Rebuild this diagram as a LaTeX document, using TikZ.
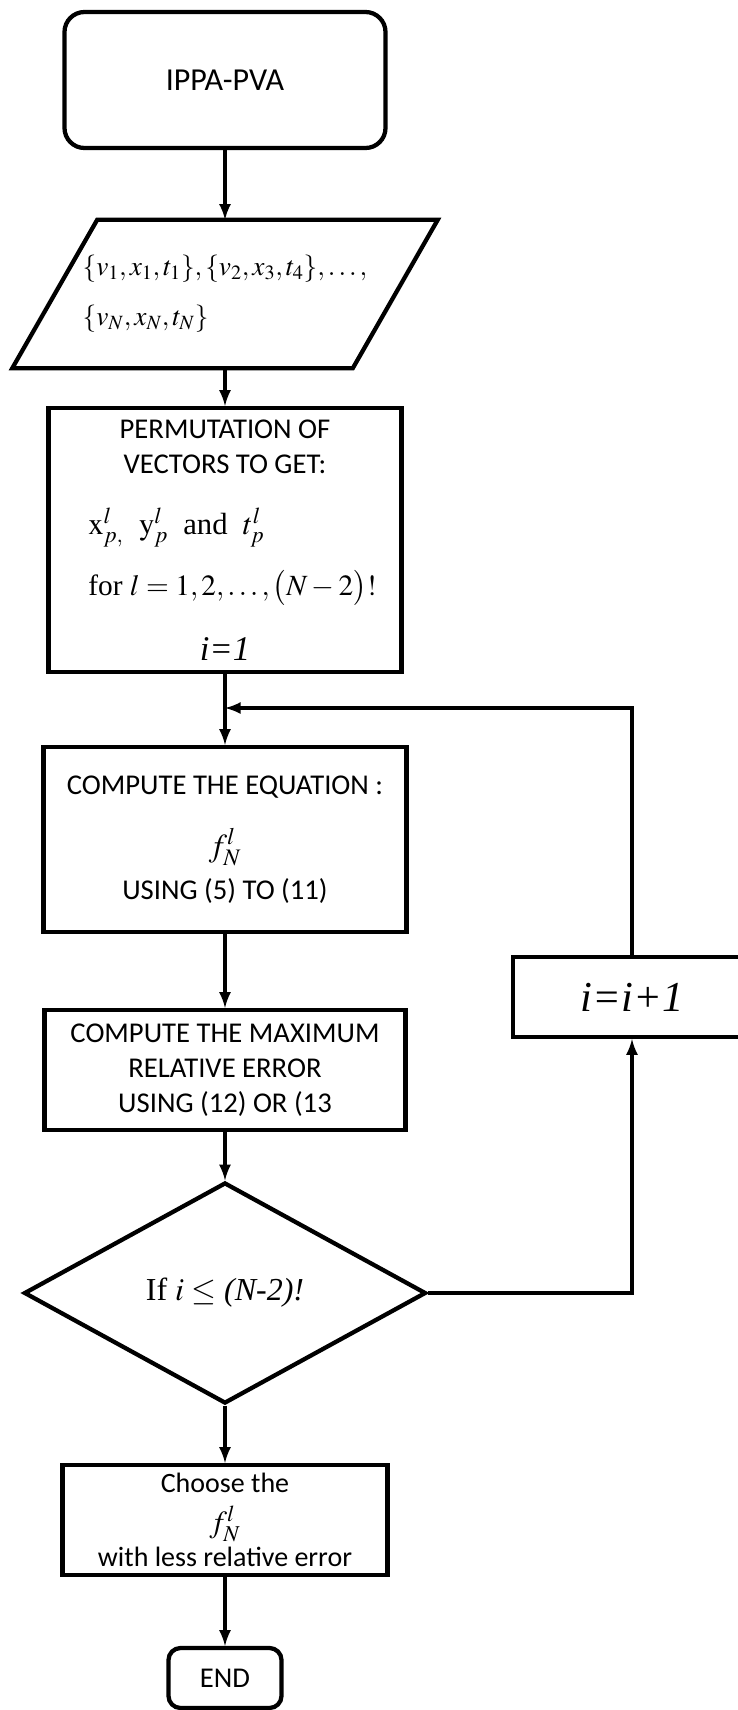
\documentclass[tikz,border=0pt]{standalone}
\usepackage{mathptmx}
\usepackage[no-math]{fontspec}
\setmainfont{Liberation Serif}
\setsansfont{Carlito}
\usetikzlibrary{shapes.geometric}
\begin{document}
\begin{tikzpicture}[x=0.75pt,y=-0.75pt,
  box/.style={draw,line width=3.2pt,inner sep=0pt,align=center,font=\sffamily\fontsize{21.5}{26.25}\selectfont},
  flow/.style={-latex,line width=3pt}]
\pgfmathsetmacro{\cx}{225}
\useasboundingbox (0,0) rectangle (738,1710);
\node[box,rounded corners=15pt,minimum width=240.75pt,minimum height=102pt,font=\sffamily\fontsize{24}{28}\selectfont] (start) at (\cx,80) {IPPA-PVA};
\node[inner sep=0pt,minimum width=255pt,minimum height=111pt,align=left,font=\rmfamily\fontsize{20.5}{37.5}\selectfont] (data) at (\cx,294) {$\{v_1,x_1,t_1\},\{v_2,x_3,t_4\},\ldots,$\\$\{v_N,x_N,t_N\}$};
\draw[line width=3.2pt]([xshift=31.875pt]data.north west)--([xshift=31.875pt]data.north east)--([xshift=-31.875pt]data.south east)--([xshift=-31.875pt]data.south west)--cycle;
\node[box,minimum width=264.75pt,minimum height=198pt] (perm) at (\cx,540) {PERMUTATION OF\\VECTORS TO GET:\\[19.5pt]
  \makebox[205pt][l]{\rmfamily\fontsize{23}{26}\selectfont$\mathrm{x}^{l}_{p,}\ \ \mathrm{y}^{l}_{p}$\ \ and\ \ $t^{l}_{p}$}\\[16.5pt]
  \makebox[205pt][l]{\rmfamily\fontsize{22}{26}\selectfont for $l=1,2,\ldots,\bigl(N-2\bigr)!$}\\[22.5pt]
  {\rmfamily\itshape\fontsize{26}{30}\selectfont i=1}};
\node[box,minimum width=272.25pt,minimum height=138.75pt] (comp) at (\cx,839.5) {COMPUTE THE EQUATION :\\[20.25pt]{\fontsize{24}{26}\selectfont$f^{l}_{N}$}\\[6pt]USING (5) TO (11)};
\node[box,minimum width=270.75pt,minimum height=90pt] (err) at (\cx,1070) {COMPUTE THE MAXIMUM\\RELATIVE ERROR\\USING (12) OR (13};
\node[box,diamond,minimum width=301.5pt,minimum height=165.75pt,font=\rmfamily\fontsize{24}{28}\selectfont] (dec) at (\cx,1293) {If $i\le$ \textit{(N-2)!}};
\node[box,minimum width=243.75pt,minimum height=82.5pt,font=\sffamily\fontsize{21}{22.5}\selectfont] (choose) at (\cx,1520) {Choose the\\[8pt]{\fontsize{23}{26}\selectfont$f^{l}_{N}$}\\[3pt]with less relative error};
\node[box,rounded corners=9pt,minimum width=84.75pt,minimum height=45pt] (end) at (\cx,1678) {END};
\node[box,minimum width=178.5pt,minimum height=60pt,font=\rmfamily\itshape\fontsize{32}{36}\selectfont] (inc) at (632,997) {i=i+1};
\coordinate (join) at (\cx,708);
\draw[flow](start)--(data);
\draw[flow](data)--(perm);
\draw[flow](perm)--(comp);
\draw[flow](comp)--(err);
\draw[flow](err)--(dec);
\draw[flow](dec)--(choose);
\draw[flow](choose)--(end);
\draw[flow](dec.east)-|(inc.south);
\draw[flow](inc.north)|-(join);
\end{tikzpicture}
\end{document}
